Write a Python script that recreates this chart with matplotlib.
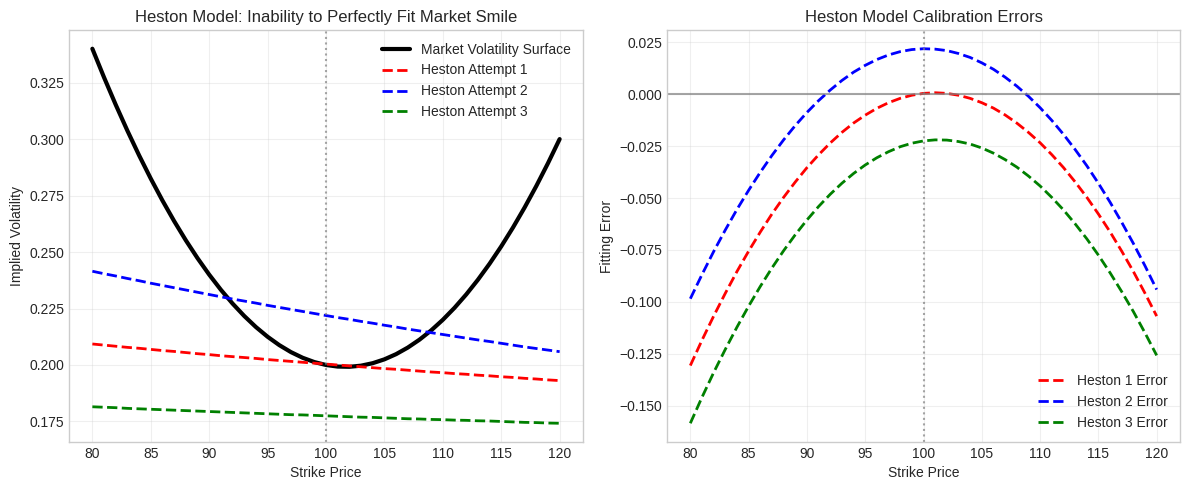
import numpy as np
import matplotlib
matplotlib.use('Agg')
from matplotlib import pyplot as plt

strikes = list(range(80, 121))
market_vol = [0.3400, 0.3273, 0.3152, 0.3037, 0.2928, 0.2825, 0.2728, 0.2637, 0.2552, 0.2473,
              0.2400, 0.2333, 0.2272, 0.2217, 0.2168, 0.2125, 0.2088, 0.2057, 0.2032, 0.2013,
              0.2000, 0.1993, 0.1992, 0.1997, 0.2008, 0.2025, 0.2048, 0.2077, 0.2112, 0.2153,
              0.2200, 0.2253, 0.2312, 0.2377, 0.2448, 0.2525, 0.2608, 0.2697, 0.2792, 0.2893,
              0.3000]
heston_1 = [0.2093, 0.2088, 0.2083, 0.2078, 0.2074, 0.2069, 0.2064, 0.2060, 0.2055, 0.2050,
            0.2046, 0.2041, 0.2037, 0.2033, 0.2029, 0.2024, 0.2020, 0.2016, 0.2012, 0.2008,
            0.2004, 0.2000, 0.1996, 0.1992, 0.1988, 0.1984, 0.1981, 0.1977, 0.1973, 0.1969,
            0.1966, 0.1962, 0.1959, 0.1955, 0.1952, 0.1948, 0.1945, 0.1941, 0.1938, 0.1934,
            0.1931]
heston_2 = [0.2415, 0.2404, 0.2394, 0.2383, 0.2373, 0.2362, 0.2352, 0.2342, 0.2332, 0.2322,
            0.2312, 0.2302, 0.2292, 0.2283, 0.2274, 0.2264, 0.2255, 0.2246, 0.2237, 0.2228,
            0.2219, 0.2210, 0.2202, 0.2193, 0.2185, 0.2176, 0.2168, 0.2159, 0.2151, 0.2143,
            0.2135, 0.2127, 0.2119, 0.2111, 0.2104, 0.2096, 0.2088, 0.2080, 0.2073, 0.2066,
            0.2059]
heston_3 = [0.1815, 0.1813, 0.1811, 0.1808, 0.1806, 0.1804, 0.1802, 0.1800, 0.1798, 0.1796,
            0.1794, 0.1792, 0.1790, 0.1788, 0.1786, 0.1784, 0.1782, 0.1780, 0.1779, 0.1777,
            0.1775, 0.1773, 0.1771, 0.1769, 0.1768, 0.1766, 0.1764, 0.1762, 0.1761, 0.1759,
            0.1758, 0.1756, 0.1755, 0.1753, 0.1752, 0.1750, 0.1748, 0.1746, 0.1745, 0.1743,
            0.1742]
spot = 100

plt.style.use('seaborn-v0_8-whitegrid')
plt.rcParams['font.family'] = ['Liberation Sans', 'DejaVu Sans']

K = np.array(strikes)
mkt = np.array(market_vol)
attempts = [np.array(heston_1), np.array(heston_2), np.array(heston_3)]
colors = ['red', 'blue', 'green']

fig, (ax1, ax2) = plt.subplots(1, 2, figsize=(11.89, 4.9), dpi=100)
W, H = 1189, 490
ax1.set_position([69/W, 1 - 442/H, (583-69)/W, (442-30)/H])
ax2.set_position([667/W, 1 - 442/H, (1180-667)/W, (442-30)/H])

ax1.plot(K, mkt, 'k-', lw=3, label='Market Volatility Surface')
for i in range(3):
    ax1.plot(K, attempts[i], '--', color=colors[i], lw=2, label='Heston Attempt %d' % (i+1))
ax1.axvline(spot, color='gray', ls=':', alpha=0.7)
ax1.set_xlabel('Strike Price')
ax1.set_ylabel('Implied Volatility')
ax1.set_title('Heston Model: Inability to Perfectly Fit Market Smile')
ax1.legend(loc='upper right')
ax1.grid(True, alpha=0.3)

for i in range(3):
    ax2.plot(K, attempts[i] - mkt, '--', color=colors[i], lw=2, label='Heston %d Error' % (i+1))
ax2.axhline(0, color='gray', ls='-', alpha=0.7)
ax2.axvline(spot, color='gray', ls=':', alpha=0.7)
ax2.set_xlabel('Strike Price')
ax2.set_ylabel('Fitting Error')
ax2.set_title('Heston Model Calibration Errors')
ax2.legend(loc='lower right')
ax2.grid(True, alpha=0.3)

for ax in (ax1, ax2):
    for s in ax.spines.values():
        s.set_visible(True)
        s.set_color('#cccccc')

plt.savefig('out.png')
